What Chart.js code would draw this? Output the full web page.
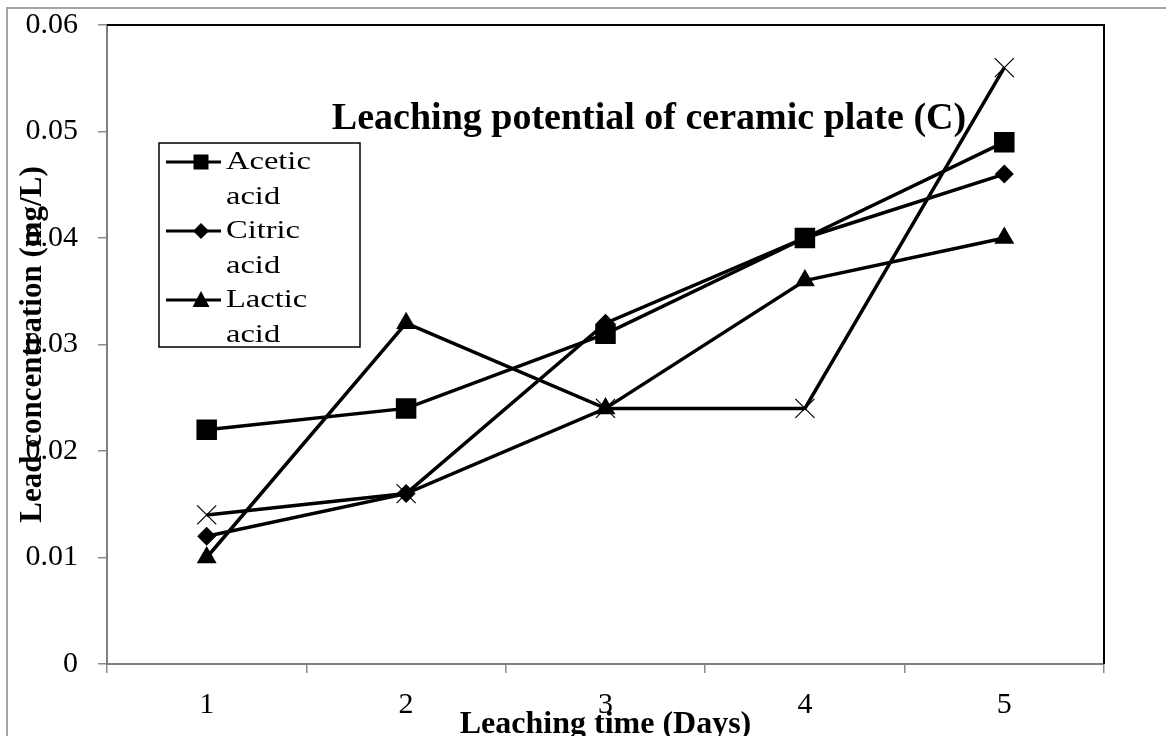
<!DOCTYPE html>
<html>
<head>
<meta charset="utf-8">
<script src="https://cdn.jsdelivr.net/npm/chart.js@4.4.0/dist/chart.umd.min.js"></script>
<style>
html, body { margin: 0; padding: 0; background: #fff; }
#wrap { width: 1166px; height: 736px; position: relative; }
</style>
</head>
<body>
<div id="wrap"><canvas id="lineChart"></canvas></div>
<script>
// data
var days = ['1', '2', '3', '4', '5'];
var seriesNames = ['Acetic acid', 'Citric acid', 'Lactic acid', ''];
var aceticAcid = [0.022, 0.024, 0.031, 0.040, 0.049];
var citricAcid = [0.012, 0.016, 0.032, 0.040, 0.046];
var lacticAcid = [0.010, 0.032, 0.024, 0.036, 0.040];
var fourthSeries = [0.014, 0.016, 0.024, 0.024, 0.056];

var chartTitle = 'Leaching potential of ceramic plate (C)';
var xTitle = 'Leaching time (Days)';
var yTitle = 'Lead concentration (mg/L)';

var serif = '"Liberation Serif", "Times New Roman", serif';

// frame, titles and the little legend box sitting inside the plot
var decor = {
    id: 'decor',
    beforeDraw: function (chart) {
        var ctx = chart.ctx;
        ctx.save();
        ctx.fillStyle = '#fff';
        ctx.fillRect(0, 0, chart.width, chart.height);
        ctx.strokeStyle = '#a6a6a6';
        ctx.lineWidth = 2;
        ctx.beginPath();
        ctx.moveTo(7, chart.height);
        ctx.lineTo(7, 8);
        ctx.lineTo(chart.width, 8);
        ctx.stroke();
        ctx.restore();
    },
    beforeDatasetsDraw: function (chart) {
        var ctx = chart.ctx, a = chart.chartArea;
        ctx.save();
        ctx.strokeStyle = '#000';
        ctx.lineWidth = 2;
        ctx.beginPath();
        ctx.moveTo(a.left, a.top);
        ctx.lineTo(a.right, a.top);
        ctx.lineTo(a.right, a.bottom);
        ctx.stroke();
        ctx.restore();
    },
    afterDraw: function (chart) {
        var ctx = chart.ctx, a = chart.chartArea;
        ctx.save();
        ctx.fillStyle = '#000';
        ctx.textAlign = 'center';
        ctx.textBaseline = 'alphabetic';

        ctx.font = 'bold 38px ' + serif;
        ctx.fillText(chartTitle, 649, 129);

        ctx.font = 'bold 32px ' + serif;
        ctx.fillText(xTitle, (a.left + a.right) / 2, 733);

        ctx.save();
        ctx.font = 'bold 31px ' + serif;
        ctx.translate(41, (a.top + a.bottom) / 2);
        ctx.rotate(-Math.PI / 2);
        ctx.fillText(yTitle, 0, 0);
        ctx.restore();

        // legend
        ctx.fillStyle = '#fff';
        ctx.fillRect(159, 143, 201, 204);
        ctx.strokeStyle = '#000';
        ctx.lineWidth = 1.5;
        ctx.strokeRect(159, 143, 201, 204);

        ctx.font = '26px ' + serif;
        ctx.textAlign = 'left';
        ctx.fillStyle = '#000';
        var baselines = [169, 238, 307];
        for (var i = 0; i < 3; i++) {
            var ds = chart.data.datasets[i];
            var b = baselines[i];
            var y = b - 7;
            ctx.lineWidth = 3;
            ctx.beginPath();
            ctx.moveTo(166, y);
            ctx.lineTo(221, y);
            ctx.stroke();
            var cx = 201;
            ctx.beginPath();
            if (ds.pointStyle === 'rect') {
                ctx.rect(cx - 7.5, y - 7.5, 15, 15);
            } else if (ds.pointStyle === 'rectRot') {
                ctx.moveTo(cx, y - 8);
                ctx.lineTo(cx + 8, y);
                ctx.lineTo(cx, y + 8);
                ctx.lineTo(cx - 8, y);
                ctx.closePath();
            } else {
                ctx.moveTo(cx, y - 9);
                ctx.lineTo(cx + 8.5, y + 7);
                ctx.lineTo(cx - 8.5, y + 7);
                ctx.closePath();
            }
            ctx.fill();
            var words = ds.label.split(' ');
            ctx.save();
            ctx.translate(226, 0);
            ctx.scale(1.25, 1);
            ctx.fillText(words[0], 0, b);
            ctx.fillText(words[1], 0, b + 35);
            ctx.restore();
        }
        ctx.restore();
    }
};

function lineSet(label, values, style, radius, bw) {
    return {
        label: label,
        data: values,
        borderColor: '#000',
        backgroundColor: '#000',
        borderWidth: 3.5,
        pointStyle: style,
        pointRadius: radius,
        pointBorderWidth: bw,
        tension: 0
    };
}

new Chart(document.getElementById('lineChart'), {
    type: 'line',
    data: {
        labels: days,
        datasets: [
            lineSet(seriesNames[0], aceticAcid, 'rect', 14.5, 0),
            lineSet(seriesNames[1], citricAcid, 'rectRot', 9.5, 0),
            lineSet(seriesNames[2], lacticAcid, 'triangle', 11.5, 0),
            lineSet(seriesNames[3], fourthSeries, 'crossRot', 13.5, 1.2)
        ]
    },
    options: {
        responsive: true,
        maintainAspectRatio: false,
        animation: false,
        layout: { padding: { top: 25, right: 62, left: 0, bottom: 0 } },
        plugins: {
            legend: { display: false },
            title: { display: false },
            tooltip: { enabled: false }
        },
        scales: {
            x: {
                type: 'category',
                offset: true,
                afterFit: function (s) {
                    s.height = 72;
                    s.paddingLeft = 0;
                    s.paddingRight = 0;
                },
                grid: {
                    offset: true,
                    drawOnChartArea: false,
                    drawTicks: true,
                    tickLength: 9,
                    color: '#8c8c8c',
                    lineWidth: 1.5
                },
                border: { display: true, color: '#808080', width: 2 },
                ticks: {
                    color: '#000',
                    font: { family: serif, size: 30 },
                    padding: 14,
                    maxRotation: 0
                }
            },
            y: {
                min: 0,
                max: 0.06,
                afterFit: function (s) {
                    s.width = 107;
                    s.paddingTop = 0;
                    s.paddingBottom = 0;
                },
                grid: {
                    drawOnChartArea: false,
                    drawTicks: true,
                    tickLength: 9,
                    color: '#8c8c8c',
                    lineWidth: 1.5
                },
                border: { display: true, color: '#808080', width: 2 },
                ticks: {
                    stepSize: 0.01,
                    color: '#000',
                    font: { family: serif, size: 30 },
                    padding: 20,
                    callback: function (v) { return v === 0 ? '0' : v.toFixed(2); }
                }
            }
        }
    },
    plugins: [decor]
});
</script>
</body>
</html>
